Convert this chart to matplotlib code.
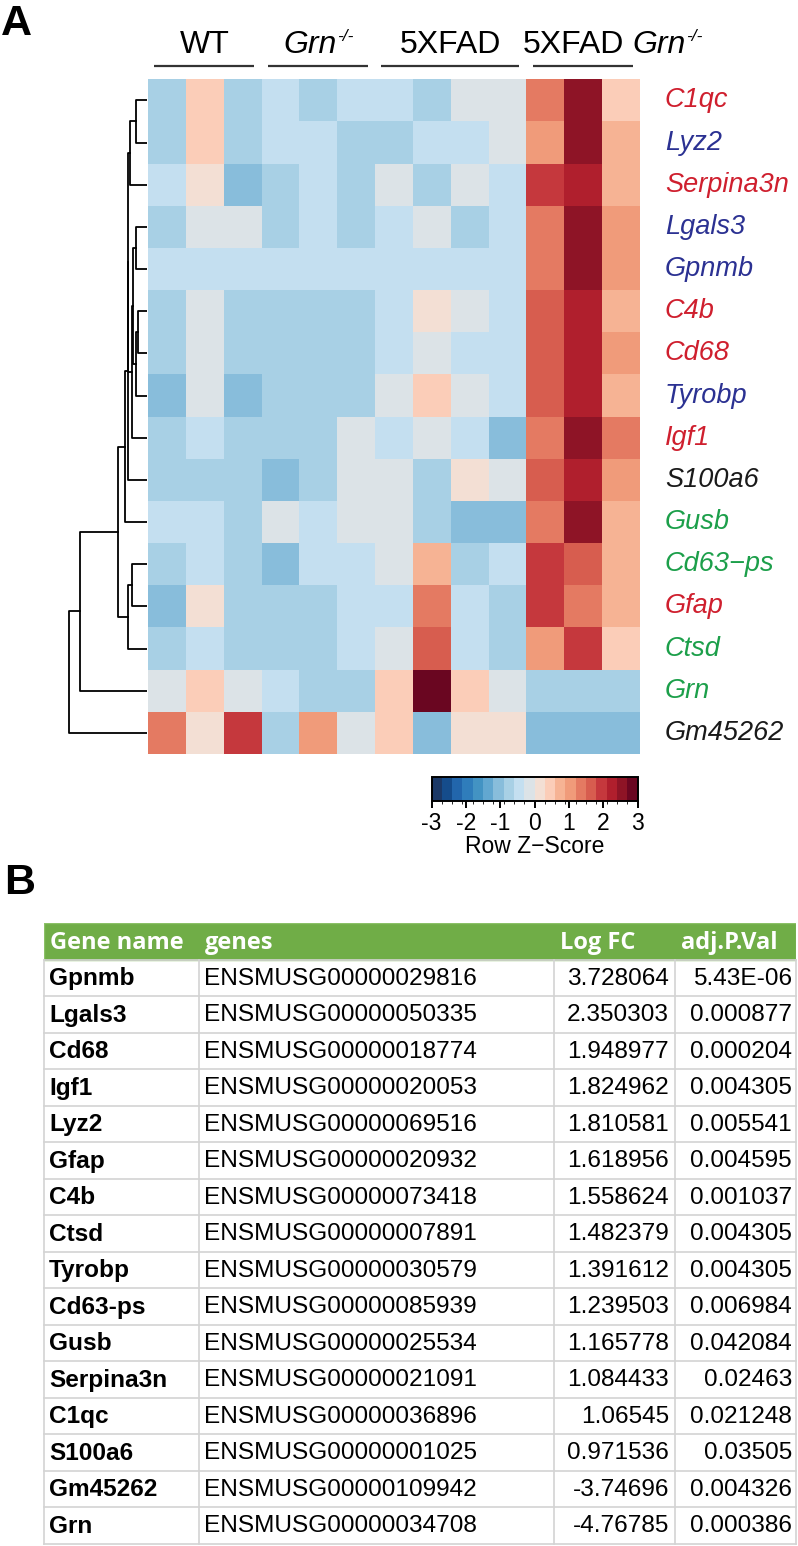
import numpy as np
import matplotlib
matplotlib.use('Agg')
import matplotlib.pyplot as plt
from matplotlib.colors import ListedColormap, BoundaryNorm

plt.rcParams['font.family'] = ['Liberation Sans', 'DejaVu Sans']
plt.rcParams['axes.unicode_minus'] = False

# ---------------- data ----------------
genes = ['C1qc', 'Lyz2', 'Serpina3n', 'Lgals3', 'Gpnmb', 'C4b', 'Cd68', 'Tyrobp',
         'Igf1', 'S100a6', 'Gusb', 'Cd63\u2212ps', 'Gfap', 'Ctsd', 'Grn', 'Gm45262']
gene_class = ['r', 'b', 'r', 'b', 'b', 'r', 'r', 'b', 'r', 'k', 'g', 'g', 'r', 'g', 'g', 'k']
group_names = ['WT', 'Grn', '5XFAD', '5XFAD Grn']
group_sizes = [3, 3, 4, 3]

# row z-scores (rows = genes, columns = samples)
zscore = np.array([
    [-0.75, 0.45, -0.75, -0.45, -0.75, -0.45, -0.45, -0.75, -0.15, -0.15, 1.35, 2.55, 0.45],
    [-0.75, 0.45, -0.75, -0.45, -0.45, -0.75, -0.75, -0.45, -0.45, -0.15, 1.05, 2.55, 0.75],
    [-0.45, 0.15, -1.05, -0.75, -0.45, -0.75, -0.15, -0.75, -0.15, -0.45, 1.95, 2.25, 0.75],
    [-0.75, -0.15, -0.15, -0.75, -0.45, -0.75, -0.45, -0.15, -0.75, -0.45, 1.35, 2.55, 1.05],
    [-0.45, -0.45, -0.45, -0.45, -0.45, -0.45, -0.45, -0.45, -0.45, -0.45, 1.35, 2.55, 1.05],
    [-0.75, -0.15, -0.75, -0.75, -0.75, -0.75, -0.45, 0.15, -0.15, -0.45, 1.65, 2.25, 0.75],
    [-0.75, -0.15, -0.75, -0.75, -0.75, -0.75, -0.45, -0.15, -0.45, -0.45, 1.65, 2.25, 1.05],
    [-1.05, -0.15, -1.05, -0.75, -0.75, -0.75, -0.15, 0.45, -0.15, -0.45, 1.65, 2.25, 0.75],
    [-0.75, -0.45, -0.75, -0.75, -0.75, -0.15, -0.45, -0.15, -0.45, -1.05, 1.35, 2.55, 1.35],
    [-0.75, -0.75, -0.75, -1.05, -0.75, -0.15, -0.15, -0.75, 0.15, -0.15, 1.65, 2.25, 1.05],
    [-0.45, -0.45, -0.75, -0.15, -0.45, -0.15, -0.15, -0.75, -1.05, -1.05, 1.35, 2.55, 0.75],
    [-0.75, -0.45, -0.75, -1.05, -0.45, -0.45, -0.15, 0.75, -0.75, -0.45, 1.95, 1.65, 0.75],
    [-1.05, 0.15, -0.75, -0.75, -0.75, -0.45, -0.45, 1.35, -0.45, -0.75, 1.95, 1.35, 0.75],
    [-0.75, -0.45, -0.75, -0.75, -0.75, -0.45, -0.15, 1.65, -0.45, -0.75, 1.05, 1.95, 0.45],
    [-0.15, 0.45, -0.15, -0.45, -0.75, -0.75, 0.45, 2.85, 0.45, -0.15, -0.75, -0.75, -0.75],
    [1.35, 0.15, 1.95, -0.75, 1.05, -0.15, 0.45, -1.05, 0.15, 0.15, -1.05, -1.05, -1.05],
])

# row dendrogram: (left node, right node, height); leaves are 0..15
links = [
    (0, 1, 11), (16, 2, 17), (3, 4, 11), (5, 6, 8.7), (19, 7, 11.3),
    (18, 20, 13.7), (21, 8, 15.3), (22, 17, 18.7), (23, 9, 19.3), (24, 10, 22),
    (11, 12, 15.3), (26, 13, 19.3), (25, 27, 28.7), (28, 14, 66.7), (29, 15, 78),
]

table_genes = ['Gpnmb', 'Lgals3', 'Cd68', 'Igf1', 'Lyz2', 'Gfap', 'C4b', 'Ctsd',
               'Tyrobp', 'Cd63-ps', 'Gusb', 'Serpina3n', 'C1qc', 'S100a6', 'Gm45262', 'Grn']
table_ids = ['ENSMUSG00000029816', 'ENSMUSG00000050335', 'ENSMUSG00000018774',
             'ENSMUSG00000020053', 'ENSMUSG00000069516', 'ENSMUSG00000020932',
             'ENSMUSG00000073418', 'ENSMUSG00000007891', 'ENSMUSG00000030579',
             'ENSMUSG00000085939', 'ENSMUSG00000025534', 'ENSMUSG00000021091',
             'ENSMUSG00000036896', 'ENSMUSG00000001025', 'ENSMUSG00000109942',
             'ENSMUSG00000034708']
table_logfc = ['3.728064', '2.350303', '1.948977', '1.824962', '1.810581', '1.618956',
               '1.558624', '1.482379', '1.391612', '1.239503', '1.165778', '1.084433',
               '1.06545', '0.971536', '-3.74696', '-4.76785']
table_pval = ['5.43E-06', '0.000877', '0.000204', '0.004305', '0.005541', '0.004595',
              '0.001037', '0.004305', '0.004305', '0.006984', '0.042084', '0.02463',
              '0.021248', '0.03505', '0.004326', '0.000386']
table_header = ['Gene name', 'genes', 'Log FC', 'adj.P.Val']

# ---------------- styling ----------------
W, H = 798, 1546
label_colors = {'r': '#cf1f2e', 'b': '#2b3192', 'g': '#1c9f4a', 'k': '#1a1a1a'}
palette = ['#1b3866', '#154c8b', '#2266ac', '#2f7dbb', '#4393c3', '#62a7d0', '#88bddb',
           '#a8d0e5', '#c4dff0', '#dce3e7', '#f3dfd4', '#fbcdb8', '#f6b394', '#f09b7a',
           '#e47a62', '#d75d4f', '#c5383d', '#b01f2d', '#8e1426', '#6a0621']
cmap = ListedColormap(palette)
norm = BoundaryNorm(np.linspace(-3, 3, 21), cmap.N)


def box(x0, y0, x1, y1):
    return [x0 / W, 1 - y1 / H, (x1 - x0) / W, (y1 - y0) / H]


fig = plt.figure(figsize=(W / 100, H / 100), dpi=100)
renderer = fig.canvas.get_renderer()

fig.text(1 / W, 1 - 35 / H, 'A', fontsize=31, weight='bold', va='baseline')
fig.text(4 / W, 1 - 894 / H, 'B', fontsize=31, weight='bold', va='baseline')

# heatmap
nrow, ncol = zscore.shape
ax = fig.add_axes(box(148, 79.3, 640, 754))
mesh = ax.pcolormesh(np.arange(ncol + 1), np.arange(nrow + 1), zscore, cmap=cmap, norm=norm)
ax.set_xlim(0, ncol)
ax.set_ylim(nrow, 0)
ax.axis('off')

for i, g in enumerate(genes):
    ax.text(ncol + 0.66, i + 0.5, g, fontsize=19.5, style='italic',
            color=label_colors[gene_class[i]], va='center', ha='left')

# group bars + labels
edges = np.concatenate([[0], np.cumsum(group_sizes)])
for k in range(len(group_sizes)):
    ax.plot([edges[k] + 0.16, edges[k + 1] - 0.19], [-0.31, -0.31], color='#333333',
            lw=1.6, clip_on=False, solid_capstyle='butt')


def measure(s, **kw):
    t = fig.text(0, 0, s, **kw)
    w = t.get_window_extent(renderer).width
    t.remove()
    return w


def group_label(name, x_px, anchor):
    parts = []
    if name.startswith('5XFAD'):
        parts.append(('5XFAD', 'normal', 23, 0, 0))
    if name.endswith('Grn'):
        parts.append(('Grn', 'italic', 23, 0, 9 if len(parts) else 0))
        parts.append(('-/-', 'italic', 12.5, 12, 0))
    if name == 'WT':
        parts.append(('WT', 'normal', 23, 0, 0))
    widths = [measure(s, fontsize=fs, style=st) for s, st, fs, dy, gap in parts]
    total = sum(widths) + sum(p[4] for p in parts)
    x = x_px - total / 2 if anchor == 'center' else x_px
    for (s, st, fs, dy, gap), w in zip(parts, widths):
        x += gap
        fig.text(x / W, 1 - (52.7 - dy) / H, s, fontsize=fs, style=st, va='baseline', ha='left')
        x += w


gx0, gw = 148, 492 / ncol
for k, name in enumerate(group_names):
    if k < 3:
        group_label(name, gx0 + gw * (edges[k] + edges[k + 1]) / 2, 'center')
    else:
        group_label(name, gx0 + gw * edges[k] - 4, 'left')

# dendrogram
axd = fig.add_axes(box(60, 79.3, 147, 754))
pos = {i: i + 0.5 for i in range(nrow)}
hgt = {i: 0.0 for i in range(nrow)}
for n, (a, b, h) in enumerate(links):
    axd.plot([hgt[a], h, h, hgt[b]], [pos[a], pos[a], pos[b], pos[b]], color='black', lw=1.3)
    pos[nrow + n] = (pos[a] + pos[b]) / 2
    hgt[nrow + n] = h
axd.set_xlim(87, 0)
axd.set_ylim(nrow, 0)
axd.axis('off')

# colour key
cax = fig.add_axes(box(431.5, 777, 637.5, 801))
cb = fig.colorbar(mesh, cax=cax, orientation='horizontal', ticks=np.arange(-3, 4))
cb.outline.set_linewidth(1.4)
cax.tick_params(length=5, width=1.4, labelsize=16.5, pad=3)
cb.set_label('Row Z\u2212Score', fontsize=16.5, labelpad=0)

# table
axt = fig.add_axes(box(44, 923, 796, 1544))
col_w = [155, 355, 121, 121]
col_x = np.concatenate([[0], np.cumsum(col_w)])
nt = len(table_genes)
axt.set_xlim(0, col_x[-1])
axt.set_ylim(nt + 1, 0)
axt.axis('off')
axt.add_patch(plt.Rectangle((0, 0), col_x[-1], 1, facecolor='#70ad47', edgecolor='#8cc168', lw=1))
for j, h in enumerate(table_header):
    axt.text(col_x[j] + 6, 0.55, h, fontsize=17, weight='bold', color='white',
             family=['Open Sans', 'DejaVu Sans'], va='center', ha='left')
grid = dict(color='#d3d3d3', lw=1.2)
for r in range(1, nt + 2):
    axt.plot([0, col_x[-1]], [r, r], **grid, clip_on=False)
for c in col_x:
    axt.plot([c, c], [1, nt + 1], **grid, clip_on=False)
for r in range(nt):
    y = r + 1.52
    axt.text(col_x[0] + 5, y, table_genes[r], fontsize=17.6, weight='bold', va='center')
    axt.text(col_x[1] + 5, y, table_ids[r], fontsize=17.6, va='center')
    axt.text(col_x[3] - 6, y, table_logfc[r], fontsize=17.6, va='center', ha='right')
    axt.text(col_x[4] - 4, y, table_pval[r], fontsize=17.6, va='center', ha='right')

fig.savefig('out.png', dpi=100, facecolor='white')
